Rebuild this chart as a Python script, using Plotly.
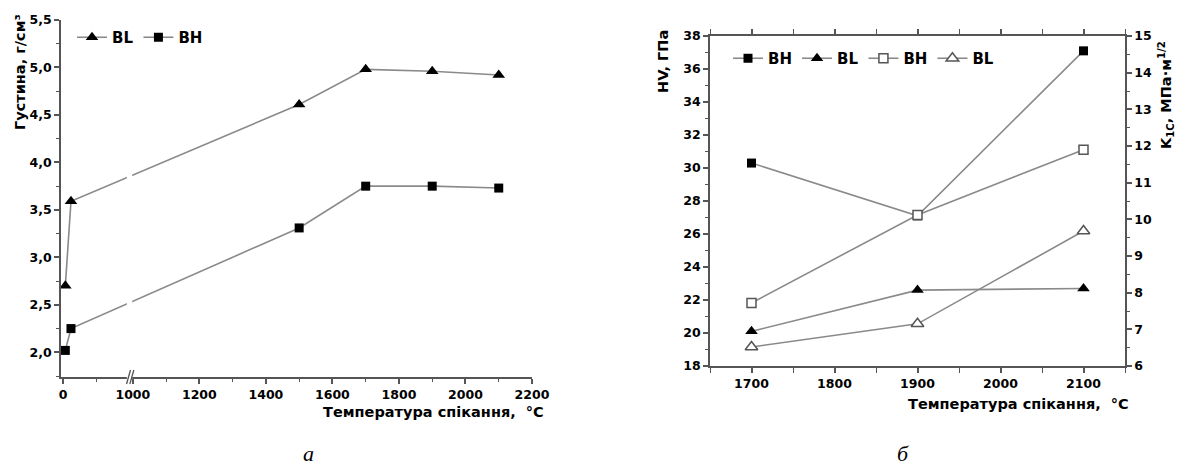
import plotly.graph_objects as go

W, H = 1182, 468

# ---------------- data: panel a (density) ----------------
temp_a = [7, 24, 1500, 1700, 1900, 2100]
dens_bl = [2.70, 3.59, 4.61, 4.98, 4.96, 4.92]
dens_bh = [2.02, 2.25, 3.31, 3.75, 3.75, 3.73]
xticks_a = [0, 1000, 1200, 1400, 1600, 1800, 2000, 2200]
xminor_a = [100, 1100, 1300, 1500, 1700, 1900, 2100]
yticks_a = [2.0, 2.5, 3.0, 3.5, 4.0, 4.5, 5.0, 5.5]

# ---------------- data: panel b (HV, K1C) ----------------
temp_b = [1700, 1900, 2100]
hv_bh = [30.3, 27.1, 37.1]
hv_bl = [20.1, 22.6, 22.7]
k1c_bh = [7.72, 10.12, 11.9]
k1c_bl = [6.52, 7.15, 9.68]

GAP = 790  # broken-axis shift (200..990 removed)


def brk(t):
    return t if t <= 200 else t - GAP


def px_x(p):
    return p / W


def px_y(p):
    return 1 - p / H


FONT = "DejaVu Sans"
LINE = "#8a8a8a"
AX = "#555555"

fig = go.Figure()

# panel a
fig.add_trace(go.Scatter(
    x=[brk(t) for t in temp_a], y=dens_bl, name="BL", mode="lines+markers",
    line=dict(color=LINE, width=1.6),
    marker=dict(symbol="triangle-up", size=11, color="black"),
    xaxis="x", yaxis="y", legend="legend"))
fig.add_trace(go.Scatter(
    x=[brk(t) for t in temp_a], y=dens_bh, name="BH", mode="lines+markers",
    line=dict(color=LINE, width=1.6),
    marker=dict(symbol="square", size=9, color="black"),
    xaxis="x", yaxis="y", legend="legend"))

# panel b
fig.add_trace(go.Scatter(
    x=temp_b, y=hv_bh, name="BH", mode="lines+markers",
    line=dict(color=LINE, width=1.6),
    marker=dict(symbol="square", size=9, color="black"),
    xaxis="x2", yaxis="y3", legend="legend2"))
fig.add_trace(go.Scatter(
    x=temp_b, y=hv_bl, name="BL", mode="lines+markers",
    line=dict(color=LINE, width=1.6),
    marker=dict(symbol="triangle-up", size=11, color="black"),
    xaxis="x2", yaxis="y3", legend="legend2"))
fig.add_trace(go.Scatter(
    x=temp_b, y=k1c_bh, name="BH", mode="lines+markers",
    line=dict(color=LINE, width=1.6),
    marker=dict(symbol="square", size=9, color="white",
                line=dict(color="#555555", width=1.5)),
    xaxis="x2", yaxis="y4", legend="legend2"))
fig.add_trace(go.Scatter(
    x=temp_b, y=k1c_bl, name="BL", mode="lines+markers",
    line=dict(color=LINE, width=1.6),
    marker=dict(symbol="triangle-up", size=11, color="white",
                line=dict(color="#555555", width=1.5)),
    xaxis="x2", yaxis="y4", legend="legend2"))

tickfont = dict(family=FONT, size=12.5, color="black", weight="bold")

ax_common = dict(showline=True, linecolor=AX, linewidth=1.5, ticks="outside",
                 ticklen=5, tickcolor=AX, tickwidth=1.5, showgrid=False,
                 zeroline=False, tickfont=tickfont, automargin=False)

fig.update_layout(
    width=W, height=H, margin=dict(l=0, r=0, t=0, b=0, pad=0, autoexpand=False),
    paper_bgcolor="white", plot_bgcolor="white",
    xaxis=dict(domain=[px_x(61), px_x(532)], range=[-6, 1410],
               tickmode="array", tickvals=[brk(v) for v in xticks_a],
               ticktext=[str(v) for v in xticks_a],
               minor=dict(tickmode="array", tickvals=[brk(v) for v in xminor_a],
                          ticks="outside", ticklen=3, tickcolor=AX, tickwidth=1.2),
               anchor="y", **ax_common),
    yaxis=dict(domain=[px_y(377), px_y(20)], range=[1.74, 5.5],
               tickmode="array", tickvals=yticks_a,
               ticktext=[f"{v:.1f}".replace(".", ",") for v in yticks_a],
               minor=dict(tickmode="linear", tick0=2.25, dtick=0.5,
                          ticks="outside", ticklen=3, tickcolor=AX, tickwidth=1.2),
               anchor="x", **ax_common),
    xaxis2=dict(domain=[px_x(710), px_x(1125)], range=[1650, 2150],
                tickmode="linear", tick0=1700, dtick=100, mirror="allticks",
                minor=dict(tickmode="linear", tick0=1650, dtick=50,
                           ticks="outside", ticklen=3, tickcolor=AX, tickwidth=1.2),
                anchor="y3", **ax_common),
    yaxis3=dict(domain=[px_y(366), px_y(36)], range=[18, 38],
                tickmode="linear", tick0=18, dtick=2,
                minor=dict(tickmode="linear", tick0=19, dtick=2,
                           ticks="outside", ticklen=3, tickcolor=AX, tickwidth=1.2),
                anchor="x2", **ax_common),
    yaxis4=dict(range=[6, 15], overlaying="y3", side="right",
                tickmode="linear", tick0=6, dtick=1,
                minor=dict(tickmode="linear", tick0=6.5, dtick=1,
                           ticks="outside", ticklen=3, tickcolor=AX, tickwidth=1.2),
                anchor="x2", **ax_common),
    legend=dict(orientation="h", x=px_x(72), y=px_y(21), xanchor="left",
                yanchor="top", bgcolor="rgba(0,0,0,0)",
                font=dict(family=FONT, size=15, color="black", weight="bold"),
                itemwidth=30, tracegroupgap=0),
    legend2=dict(orientation="h", x=px_x(728), y=px_y(42), xanchor="left",
                 yanchor="top", bgcolor="rgba(0,0,0,0)",
                 font=dict(family=FONT, size=15, color="black", weight="bold"),
                 itemwidth=30, tracegroupgap=0),
    showlegend=True,
)

# axis break on panel a: white strip + slashes
fig.add_shape(type="rect", xref="x", yref="paper",
              x0=brk(1000) - 18, x1=brk(1000) - 2,
              y0=px_y(380), y1=px_y(22),
              fillcolor="white", line=dict(width=0), layer="above")
for dx in (-14, -4):
    fig.add_shape(type="line", xref="x", yref="paper",
                  x0=brk(1000) + dx - 5, x1=brk(1000) + dx + 7,
                  y0=px_y(384), y1=px_y(370),
                  line=dict(color=AX, width=1.3), layer="above")

title_font = dict(family=FONT, size=14.5, color="black", weight="bold")


def note(text, x, y, font, angle=0):
    fig.add_annotation(text=text, x=px_x(x), y=px_y(y), xref="paper", yref="paper",
                       xanchor="center", yanchor="middle", textangle=angle,
                       showarrow=False, font=font)


note("Густина, г/см³", 20, 72, title_font, -90)
note("Температура спікання,  °C", 433, 412, title_font)
note("HV, ГПа", 663, 62, title_font, -90)
note("K<sub>1C</sub>, МПа·м<sup>1/2</sup>", 1166, 95, title_font, -90)
note("Температура спікання,  °C", 1018, 404, title_font)

cap_font = dict(family="Liberation Serif", size=22, color="black", style="italic")
note("а", 308, 453, cap_font)
note("б", 903, 453, cap_font)

fig.write_html("out.html", post_script="document.body.style.margin='0';")
